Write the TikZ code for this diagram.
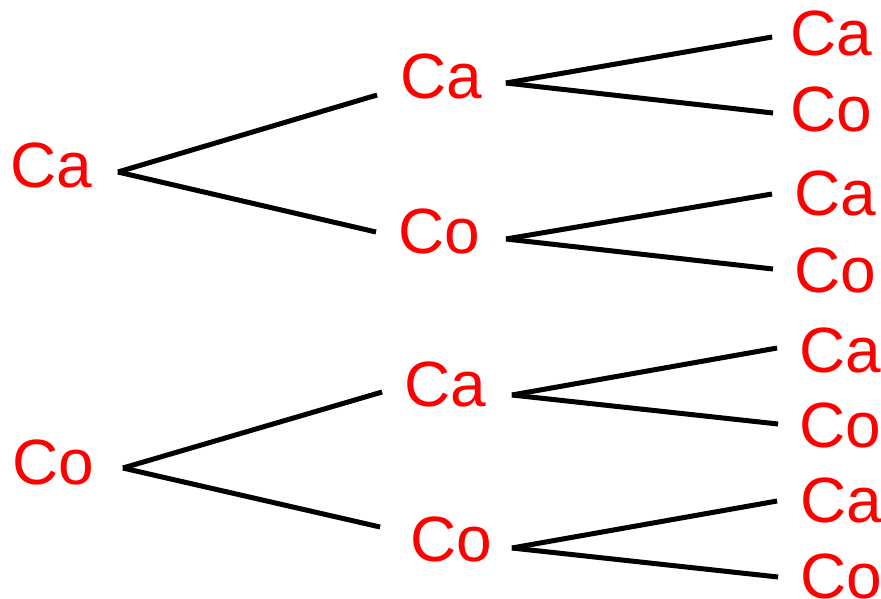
\documentclass[tikz,border=0pt]{standalone}
\usepackage{fontspec}
\setmainfont{Liberation Sans}
\begin{document}
\begin{tikzpicture}[x=1pt,y=-1pt,
  leaf/.style={text=red, inner sep=0pt, outer sep=0pt, anchor=center,
    font=\fontsize{64}{70}\selectfont},
  branch/.style={draw=black, line width=5pt}]
\useasboundingbox (0,0) rectangle (881,598);

% first column
\node[leaf] (L1) at (51,165) {Ca};
\node[leaf] (L2) at (53,462) {Co};

% second column
\node[leaf] (M1) at (441,76.5) {Ca};
\node[leaf] (M2) at (439.5,231.5) {Co};
\node[leaf] (M3) at (445,384) {Ca};
\node[leaf] (M4) at (451,539.5) {Co};

% third column
\node[leaf] (R1) at (831,33.5) {Ca};
\node[leaf] (R2) at (831.5,109.5) {Co};
\node[leaf] (R3) at (835.5,193) {Ca};
\node[leaf] (R4) at (835.5,270) {Co};
\node[leaf] (R5) at (840,350) {Ca};
\node[leaf] (R6) at (840,425.5) {Co};
\node[leaf] (R7) at (841,500) {Ca};
\node[leaf] (R8) at (841,576) {Co};

% branches from the first column
\draw[branch] ([xshift=26pt,yshift=-7pt]L1.east) -- ([xshift=-23pt,yshift=-18.5pt]M1.west);
\draw[branch] ([xshift=26pt,yshift=-7pt]L1.east) -- ([xshift=-22.6pt,yshift=-0.5pt]M2.west);
\draw[branch] ([xshift=29pt,yshift=-6pt]L2.east) -- ([xshift=-22pt,yshift=-8pt]M3.west);
\draw[branch] ([xshift=29pt,yshift=-6pt]L2.east) -- ([xshift=-30pt,yshift=12.5pt]M4.west);

% branches from the second column
\draw[branch] ([xshift=24pt,yshift=-6.5pt]M1.east) -- ([xshift=-18pt,yshift=-3.5pt]R1.west);
\draw[branch] ([xshift=24pt,yshift=-6.5pt]M1.east) -- ([xshift=-17.6pt,yshift=-3.5pt]R2.west);
\draw[branch] ([xshift=25.6pt,yshift=-7.5pt]M2.east) -- ([xshift=-22.6pt,yshift=-1pt]R3.west);
\draw[branch] ([xshift=25.6pt,yshift=-7.5pt]M2.east) -- ([xshift=-21.6pt,yshift=1pt]R4.west);
\draw[branch] ([xshift=26pt,yshift=-11pt]M3.east) -- ([xshift=-22pt,yshift=2pt]R5.west);
\draw[branch] ([xshift=26pt,yshift=-11pt]M3.east) -- ([xshift=-21pt,yshift=1.5pt]R6.west);
\draw[branch] ([xshift=20pt,yshift=-8.5pt]M4.east) -- ([xshift=-23pt,yshift=-1pt]R7.west);
\draw[branch] ([xshift=20pt,yshift=-8.5pt]M4.east) -- ([xshift=-22pt,yshift=-1pt]R8.west);
\end{tikzpicture}
\end{document}
